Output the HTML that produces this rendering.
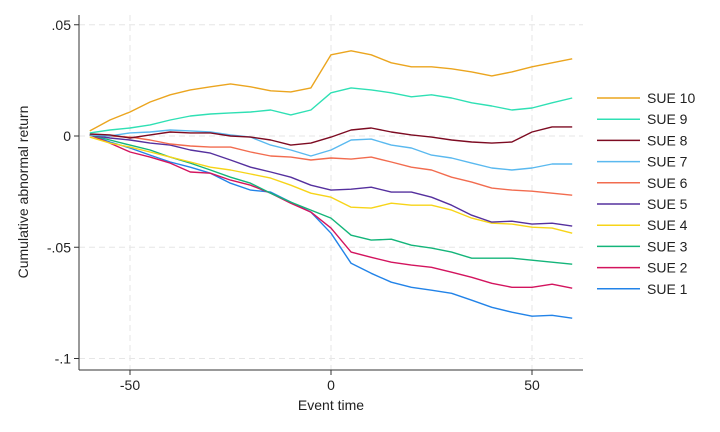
<!DOCTYPE html>
<html><head><meta charset="utf-8"><style>
body{margin:0;background:#fff;}
svg{display:block;font-family:"Liberation Sans",sans-serif;}
</style></head><body>
<svg id="chart" width="720" height="432">
<rect width="720" height="432" fill="#fff"/>
<g id="grid"></g>
<g id="axes"></g>
<g id="lines"></g>
<g id="legend"></g>
<text x="331" y="410" text-anchor="middle" font-size="14" fill="#222">Event time</text>
<text x="28" y="192" text-anchor="middle" font-size="14" fill="#222" transform="rotate(-90 28 192)">Cumulative abnormal return</text>
</svg>
<script>
const times = [-60,-55,-50,-45,-40,-35,-30,-25,-20,-15,-10,-5,0,5,10,15,20,25,30,35,40,45,50,55,60];
const seriesNames = ["SUE 10","SUE 9","SUE 8","SUE 7","SUE 6","SUE 5","SUE 4","SUE 3","SUE 2","SUE 1"];
const seriesColors = ["#eba51f","#2fe0b4","#7d0b22","#5ab9ef","#f26c4f","#55309e","#f7d418","#14b57a","#d3145e","#2283e8"];
// values in thousandths
const sue10 = [2.3,7.2,10.8,15.3,18.5,20.7,22.1,23.4,22.1,20.3,19.8,21.6,36.5,38.3,36.5,32.9,31.1,31.1,30.2,28.8,27,28.8,31.1,32.9,34.7];
const sue9 = [1.4,2.7,3.6,5,7.2,9,9.9,10.4,10.8,11.7,9.5,11.7,19.4,21.6,20.7,19.4,17.6,18.5,17.1,14.9,13.5,11.7,12.6,14.9,17.1];
const sue8 = [0.9,0.5,-0.9,0.5,1.8,1.4,1.4,0,-0.5,-1.8,-4.1,-3.2,-0.5,2.7,3.6,1.8,0.5,-0.5,-1.8,-2.7,-3.2,-2.7,1.8,4.1,4.1];
const sue7 = [0.5,0,1.4,1.8,2.7,2.3,1.8,0.5,-0.5,-4.1,-6.3,-9,-6.3,-1.8,-1.4,-4.1,-5.4,-8.6,-9.9,-12.2,-14.4,-15.3,-14.4,-12.6,-12.6];
const sue6 = [0.5,0,-0.5,-1.8,-3.6,-4.5,-5,-5,-7.2,-9,-9.5,-10.8,-9.9,-10.4,-9.5,-11.7,-14,-15.3,-18.5,-20.7,-23.4,-24.3,-24.8,-25.7,-26.6];
const sue5 = [0.5,-0.9,-1.8,-3.2,-4.1,-6.3,-7.7,-10.8,-14,-16.2,-18.5,-22.1,-24.3,-23.9,-23,-25.2,-25.2,-27.5,-31.1,-35.6,-38.7,-38.3,-39.6,-39.2,-40.5];
const sue4 = [-0.5,-3.2,-5,-7.2,-9.5,-11.7,-14,-15.3,-17.1,-18.9,-22.1,-25.7,-27.5,-32,-32.4,-30.2,-31.1,-31.1,-33.3,-36.9,-39.2,-39.6,-41,-41.4,-43.7];
const sue3 = [0.5,-1.8,-4.1,-6.3,-9.5,-12.2,-15.3,-18.5,-21.2,-25.7,-29.7,-33.3,-36.9,-44.6,-46.8,-46.4,-49.1,-50.4,-52.2,-54.9,-54.9,-54.9,-55.8,-56.7,-57.6];
const sue2 = [0.5,-3.2,-7.2,-9.5,-12.2,-16.2,-16.7,-19.8,-22.1,-25.7,-30.2,-34.2,-41.4,-52.2,-54.5,-56.7,-58,-59,-61.2,-63.5,-66.2,-68,-68,-66.6,-68.4];
const sue1 = [0.5,-2.7,-5.4,-8.6,-11.7,-14,-16.7,-21.2,-24.3,-25.2,-29.7,-34.2,-43.7,-57.2,-61.7,-65.7,-68,-69.3,-70.7,-73.8,-77,-79.2,-81,-80.6,-81.9];
const xTicks = [-50,0,50];
const xTickLabels = ["-50","0","50"];
const yTicks = [0.05,0,-0.05,-0.1];
const yTickLabels = [".05","0","-.05","-.1"];

const NS="http://www.w3.org/2000/svg";
const xs = t => 331 + t*4.02;
const ys = v => 136 - v*2225;
function mk(tag,attrs,parent){const e=document.createElementNS(NS,tag);for(const k in attrs)e.setAttribute(k,attrs[k]);parent.appendChild(e);return e;}
const grid=document.getElementById('grid'),axes=document.getElementById('axes'),lines=document.getElementById('lines'),legend=document.getElementById('legend');
yTicks.forEach((v,i)=>{
  const g=mk('line',{x1:79,x2:583,y1:ys(v),y2:ys(v),stroke:"#e6e6e6","stroke-dasharray":"6,4","stroke-width":1},grid);
  
  
  const tk=mk('line',{x1:74,x2:79,y1:ys(v),y2:ys(v),stroke:"#333"},axes);
  
  
  const t=mk('text',{x:71,y:ys(v)+5,"text-anchor":"end","font-size":14,fill:"#222"},axes);
  t.textContent=yTickLabels[i];
  
  
});
xTicks.forEach((v,i)=>{
  const g=mk('line',{x1:xs(v),x2:xs(v),y1:15,y2:370,stroke:"#e6e6e6","stroke-dasharray":"6,4","stroke-width":1},grid);
  
  
  const tk=mk('line',{x1:xs(v),x2:xs(v),y1:370,y2:375,stroke:"#333"},axes);
  
  
  const t=mk('text',{x:xs(v),y:390,"text-anchor":"middle","font-size":14,fill:"#222"},axes);
  t.textContent=xTickLabels[i];
  
  
});
const la=mk('line',{x1:79,x2:79,y1:15,y2:370,stroke:"#333"},axes);


const lb=mk('line',{x1:79,x2:583,y1:370,y2:370,stroke:"#333"},axes);


const allSeries=[sue10,sue9,sue8,sue7,sue6,sue5,sue4,sue3,sue2,sue1];
for(let s=allSeries.length-1;s>=0;s--){
  const d=allSeries[s].map((v,i)=>(i?'L':'M')+xs(times[i]).toFixed(1)+','+ys(v/1000).toFixed(1)).join('');
  const p=mk('path',{d:d,fill:"none",stroke:seriesColors[s],"stroke-width":1.4,"stroke-linejoin":"round"},lines);
  
  
}
seriesNames.forEach((n,i)=>{
  const y=98+i*21.2;
  const l=mk('line',{x1:597,x2:640,y1:y,y2:y,stroke:seriesColors[i],"stroke-width":1.5},legend);
  
  
  const t=mk('text',{x:647,y:y+5,"font-size":14,fill:"#222"},legend);
  t.textContent=n;
  
  
});
</script>
</body></html>
